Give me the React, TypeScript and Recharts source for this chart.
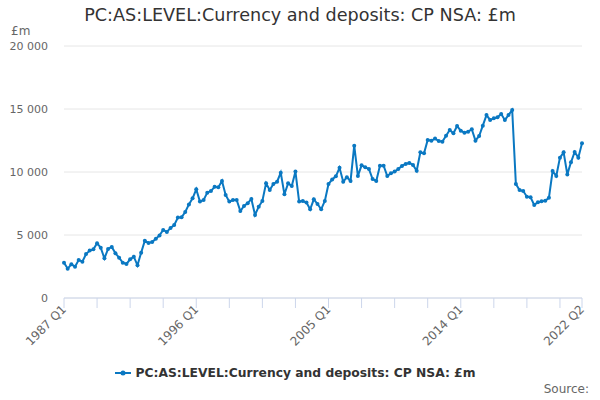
import React from 'react';
import { LineChart, Line, XAxis, YAxis, CartesianGrid, Legend } from 'recharts';

const startYear = 1987;
const quarters: string[] = [];
for (let i = 0; i < 142; i++) {
  const y = startYear + Math.floor(i / 4);
  const q = (i % 4) + 1;
  quarters.push(`${y} Q${q}`);
}

const values: number[] = [
  2800, 2330, 2670, 2490, 3020, 2880, 3490, 3760, 3860, 4340,
  3990, 3150, 3890, 4050, 3550, 3200, 2800, 2700, 3070, 3280,
  2590, 3600, 4550, 4370, 4440, 4710, 4970, 5400, 5240, 5560,
  5790, 6380, 6400, 6830, 7430, 7910, 8630, 7650, 7780, 8360,
  8490, 8830, 8780, 9290, 8180, 7650, 7780, 7780, 6900, 7300,
  7510, 7860, 6590, 7250, 7700, 9100, 8570, 9050, 9230, 9950,
  8230, 9100, 8890, 10030, 7650, 7700, 7570, 7040, 7830, 7460,
  7040, 7700, 9050, 9400, 9660, 10330, 9230, 9580, 9290, 12090,
  9680, 10530, 10370, 10240, 9440, 9290, 10500, 10500, 9680, 9900,
  10030, 10240, 10480, 10640, 10720, 10560, 10100, 11560, 11480, 12540,
  12490, 12650, 12460, 12410, 12880, 13330, 13070, 13650, 13280, 13120,
  13190, 13390, 12490, 12860, 13680, 14520, 14130, 14260, 14340, 14600,
  14130, 14520, 14920, 9050, 8570, 8490, 8040, 7990, 7380, 7600,
  7670, 7720, 7960, 10080, 9680, 11140, 11560, 9810, 10770, 11590,
  11140, 12280,
];

const tickQuarters: string[] = [
  '1987 Q1', '1989 Q2', '1991 Q3', '1993 Q4', '1996 Q1', '1998 Q2', '2000 Q3', '2002 Q4',
  '2005 Q1', '2007 Q2', '2009 Q3', '2011 Q4', '2014 Q1', '2016 Q2', '2018 Q3', '2020 Q4', '2022 Q2',
];
const labelledQuarters: string[] = ['1987 Q1', '1996 Q1', '2005 Q1', '2014 Q1', '2022 Q2'];
const yTicks: number[] = [0, 5000, 10000, 15000, 20000];

const seriesName = 'PC:AS:LEVEL:Currency and deposits: CP NSA: £m';
const data = quarters.map((q, i) => ({ quarter: q, value: values[i] }));

const FONT = '"DejaVu Sans", Verdana, Arial, sans-serif';
const COLOR = '#0a78c2';

const fmt = (v: number) => {
  const s = String(v);
  return s.length > 3 ? s.slice(0, s.length - 3) + ' ' + s.slice(s.length - 3) : s;
};

const XTick = (props: any) => {
  const { x, payload } = props;
  if (!labelledQuarters.includes(payload.value)) return <g />;
  const ax = x + 3;
  const ay = 310;
  return (
    <text
      x={ax}
      y={ay}
      textAnchor="end"
      fontSize={12}
      fill="#666666"
      fontFamily={FONT}
      transform={`rotate(-45 ${ax} ${ay})`}
    >
      {payload.value}
    </text>
  );
};

const LegendContent = () => (
  <div
    style={{
      height: 26,
      display: 'flex',
      justifyContent: 'center',
      alignItems: 'center',
      paddingTop: 6,
      boxSizing: 'border-box',
      fontFamily: FONT,
      fontSize: 12.3,
      fontWeight: 'bold',
      color: '#333333',
    }}
  >
    <svg width={16} height={10} style={{ marginRight: 5 }}>
      <line x1={0} y1={5} x2={16} y2={5} stroke={COLOR} strokeWidth={2} />
      <circle cx={8} cy={5} r={2.5} fill={COLOR} />
    </svg>
    <span>{seriesName}</span>
  </div>
);

export default function App() {
  return (
    <div style={{ position: 'absolute', top: 0, left: 0, width: 600, height: 400, fontFamily: FONT, background: '#ffffff' }}>
      <LineChart
        width={600}
        height={400}
        data={data}
        margin={{ top: 46, right: 18, bottom: 17, left: 8 }}
      >
        <CartesianGrid vertical={false} stroke="#e6e6e6" strokeWidth={1} />
        <XAxis
          dataKey="quarter"
          ticks={tickQuarters}
          interval={0}
          height={59}
          tick={<XTick />}
          tickSize={10}
          tickLine={{ stroke: '#ccd6eb' }}
          axisLine={{ stroke: '#ccd6eb' }}
        />
        <YAxis
          domain={[0, 20000]}
          ticks={yTicks}
          width={56}
          tickFormatter={fmt}
          axisLine={false}
          tickLine={false}
          tickSize={0}
          tickMargin={16}
          tick={{ fontSize: 11, fill: '#666666', fontFamily: FONT }}
        />
        <Legend verticalAlign="bottom" content={<LegendContent />} />
        <Line
          type="linear"
          dataKey="value"
          name={seriesName}
          stroke={COLOR}
          strokeWidth={2}
          dot={{ r: 2, fill: COLOR, stroke: COLOR, strokeWidth: 0 }}
          activeDot={false}
          isAnimationActive={false}
        />
      </LineChart>
      <div
        style={{
          position: 'absolute',
          top: 5,
          left: 0,
          width: 600,
          textAlign: 'center',
          fontSize: 17.6,
          color: '#333333',
          fontFamily: FONT,
        }}
      >
        {seriesName}
      </div>
      <div style={{ position: 'absolute', top: 24, left: 11, fontSize: 12, color: '#666666', fontFamily: FONT }}>£m</div>
      <div style={{ position: 'absolute', top: 382, right: 11, fontSize: 12, color: '#666666', fontFamily: FONT }}>Source:</div>
    </div>
  );
}
